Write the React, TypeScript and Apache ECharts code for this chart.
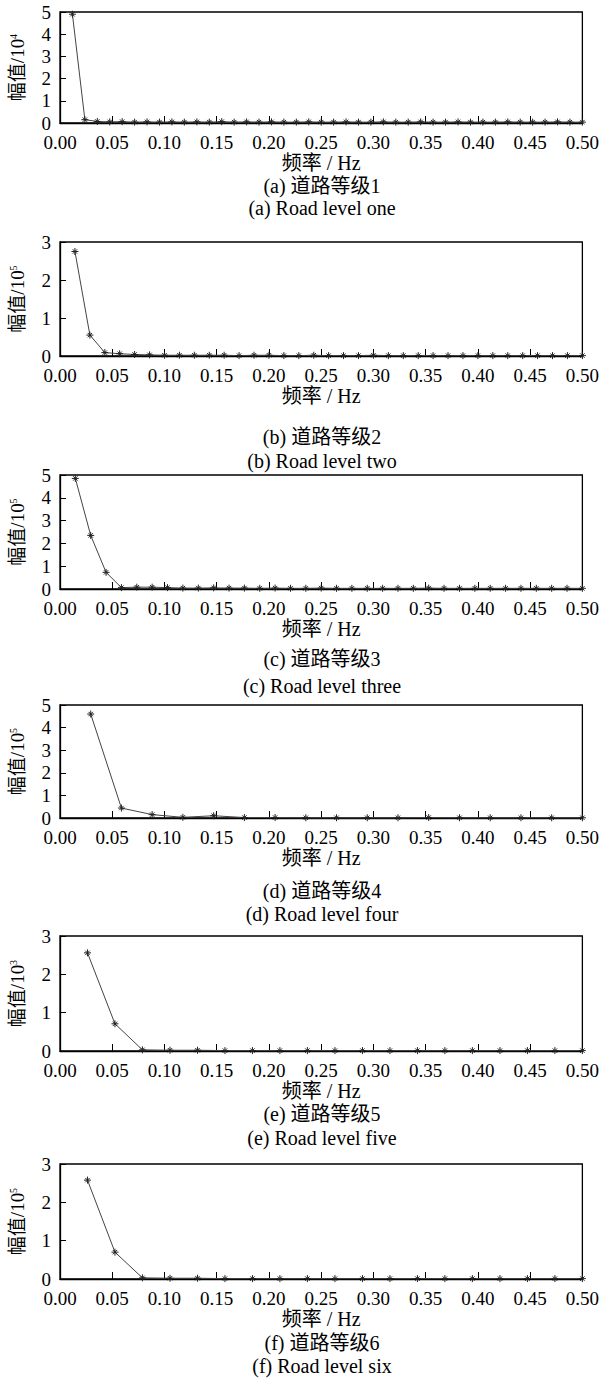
import React, { useEffect, useRef } from "react";
import * as echarts from "echarts";

// Frequencies (Hz) and amplitudes
const freqA = [0.0119, 0.0238, 0.0357, 0.0476, 0.0595, 0.0714, 0.0833, 0.0952, 0.1071, 0.1190, 0.1310, 0.1429, 0.1548, 0.1667, 0.1786, 0.1905, 0.2024, 0.2143, 0.2262, 0.2381, 0.2500, 0.2619, 0.2738, 0.2857, 0.2976, 0.3095, 0.3214, 0.3333, 0.3452, 0.3571, 0.3690, 0.3810, 0.3929, 0.4048, 0.4167, 0.4286, 0.4405, 0.4524, 0.4643, 0.4762, 0.4881, 0.5000];
const ampA = [4.9, 0.15, 0.07, 0.05, 0.06, 0.04, 0.05, 0.04, 0.05, 0.04, 0.05, 0.04, 0.06, 0.04, 0.05, 0.04, 0.05, 0.04, 0.04, 0.05, 0.04, 0.04, 0.05, 0.04, 0.04, 0.05, 0.04, 0.04, 0.05, 0.04, 0.04, 0.05, 0.04, 0.04, 0.04, 0.05, 0.04, 0.04, 0.04, 0.05, 0.04, 0.04];

const freqB = [0.0143, 0.0286, 0.0429, 0.0571, 0.0714, 0.0857, 0.1000, 0.1143, 0.1286, 0.1429, 0.1571, 0.1714, 0.1857, 0.2000, 0.2143, 0.2286, 0.2429, 0.2571, 0.2714, 0.2857, 0.3000, 0.3143, 0.3286, 0.3429, 0.3571, 0.3714, 0.3857, 0.4000, 0.4143, 0.4286, 0.4429, 0.4571, 0.4714, 0.4857, 0.5000];
const ampB = [2.75, 0.55, 0.09, 0.06, 0.04, 0.03, 0.02, 0.02, 0.02, 0.02, 0.02, 0.01, 0.02, 0.02, 0.01, 0.01, 0.02, 0.01, 0.01, 0.01, 0.02, 0.01, 0.01, 0.01, 0.01, 0.01, 0.01, 0.01, 0.01, 0.01, 0.01, 0.01, 0.01, 0.01, 0.01];

const freqC = [0.0147, 0.0294, 0.0441, 0.0588, 0.0735, 0.0882, 0.1029, 0.1176, 0.1324, 0.1471, 0.1618, 0.1765, 0.1912, 0.2059, 0.2206, 0.2353, 0.2500, 0.2647, 0.2794, 0.2941, 0.3088, 0.3235, 0.3382, 0.3529, 0.3676, 0.3824, 0.3971, 0.4118, 0.4265, 0.4412, 0.4559, 0.4706, 0.4853, 0.5000];
const ampC = [4.85, 2.35, 0.73, 0.06, 0.08, 0.08, 0.06, 0.04, 0.04, 0.05, 0.04, 0.04, 0.03, 0.04, 0.03, 0.03, 0.04, 0.03, 0.03, 0.03, 0.03, 0.03, 0.03, 0.04, 0.03, 0.03, 0.03, 0.03, 0.03, 0.03, 0.03, 0.03, 0.03, 0.03];

const freqD = [0.0294, 0.0588, 0.0882, 0.1176, 0.1471, 0.1765, 0.2059, 0.2353, 0.2647, 0.2941, 0.3235, 0.3529, 0.3824, 0.4118, 0.4412, 0.4706, 0.5000];
const ampD = [4.6, 0.44, 0.15, 0.03, 0.1, 0.02, 0.02, 0.01, 0.01, 0.01, 0.01, 0.02, 0.01, 0.01, 0.01, 0.01, 0.01];

const freqE = [0.0263, 0.0526, 0.0789, 0.1053, 0.1316, 0.1579, 0.1842, 0.2105, 0.2368, 0.2632, 0.2895, 0.3158, 0.3421, 0.3684, 0.3947, 0.4211, 0.4474, 0.4737, 0.5000];
const ampE = [2.56, 0.71, 0.03, 0.02, 0.02, 0.01, 0.01, 0.01, 0.01, 0.01, 0.01, 0.01, 0.01, 0.01, 0.01, 0.01, 0.01, 0.01, 0.01];

const freqF = [0.0263, 0.0526, 0.0789, 0.1053, 0.1316, 0.1579, 0.1842, 0.2105, 0.2368, 0.2632, 0.2895, 0.3158, 0.3421, 0.3684, 0.3947, 0.4211, 0.4474, 0.4737, 0.5000];
const ampF = [2.58, 0.70, 0.03, 0.02, 0.02, 0.01, 0.01, 0.01, 0.01, 0.01, 0.01, 0.01, 0.01, 0.01, 0.01, 0.01, 0.01, 0.01, 0.01];

const yMaxes = [5, 3, 5, 5, 3, 3];
const yExponents = ["4", "5", "5", "5", "3", "5"];
const captionsZh = ["(a) 道路等级1", "(b) 道路等级2", "(c) 道路等级3", "(d) 道路等级4", "(e) 道路等级5", "(f) 道路等级6"];
const captionsEn = ["(a) Road level one", "(b) Road level two", "(c) Road level three", "(d) Road level four", "(e) Road level five", "(f) Road level six"];
const xAxisTitle = "频率 / Hz";
const yAxisTitle = "幅值/10";

const FONT = "'Liberation Serif', 'Noto Sans CJK SC', serif";

// layout (px)
const gridTops = [12, 242, 475, 705, 936, 1164];
const gridHeights = [111, 114, 114, 113, 115, 115];
const captionY1 = [186, 437, 659, 891, 1114, 1343];
const captionY2 = [208, 461, 686, 914, 1138, 1366];

const MARKER = "path://M0,-4L0,4M-4,0L4,0M-2.5,-2.5L2.5,2.5M-2.5,2.5L2.5,-2.5";

export default function App() {
  const ref = useRef<HTMLDivElement>(null);
  useEffect(() => {
    if (!ref.current) return;
    const chart = echarts.init(ref.current, null, { renderer: "svg" });
    const freqs = [freqA, freqB, freqC, freqD, freqE, freqF];
    const amps = [ampA, ampB, ampC, ampD, ampE, ampF];

    const grids: any[] = [];
    const xAxes: any[] = [];
    const yAxes: any[] = [];
    const series: any[] = [];
    const graphics: any[] = [];

    for (let i = 0; i < 6; i++) {
      grids.push({
        left: 60,
        right: 17,
        top: gridTops[i],
        height: gridHeights[i],
        show: true,
        borderColor: "#000",
        borderWidth: 1.3,
        backgroundColor: "#fff",
      });
      xAxes.push({
        type: "value",
        gridIndex: i,
        min: 0,
        max: 0.5,
        interval: 0.05,
        name: xAxisTitle,
        nameLocation: "middle",
        nameGap: 30,
        nameTextStyle: { fontFamily: FONT, fontSize: 20, color: "#000" },
        axisLine: { show: true, lineStyle: { color: "#000", width: 1.3 } },
        axisTick: { show: true, inside: true, length: 7, lineStyle: { color: "#000" } },
        axisLabel: {
          fontFamily: FONT,
          fontSize: 19,
          lineHeight: 19,
          color: "#000",
          margin: 10,
          formatter: (v: number) => v.toFixed(2),
        },
        splitLine: { show: false },
      });
      yAxes.push({
        type: "value",
        gridIndex: i,
        min: 0,
        max: yMaxes[i],
        interval: 1,
        name: yAxisTitle + "{sup|" + yExponents[i] + "}",
        nameLocation: "middle",
        nameRotate: 90,
        nameGap: 33,
        nameTextStyle: {
          fontFamily: FONT,
          fontSize: 19,
          color: "#000",
          rich: {
            sup: { fontFamily: FONT, fontSize: 10, color: "#000", verticalAlign: "top", padding: [0, 0, 9, 0] },
          },
        },
        axisLine: { show: true, lineStyle: { color: "#000", width: 1.3 } },
        axisTick: { show: true, inside: true, length: 6, lineStyle: { color: "#000" } },
        axisLabel: { fontFamily: FONT, fontSize: 19, lineHeight: 15, color: "#000", margin: 9 },
        splitLine: { show: false },
      });
      series.push({
        type: "line",
        xAxisIndex: i,
        yAxisIndex: i,
        data: freqs[i].map((f, k) => [f, amps[i][k]]),
        symbol: MARKER,
        symbolSize: 7,
        showSymbol: true,
        lineStyle: { color: "#444", width: 1 },
        itemStyle: { color: "#222", borderColor: "#222", borderWidth: 1 },
        clip: false,
      });
      graphics.push({
        type: "text",
        x: 322,
        y: captionY1[i],
        style: {
          text: captionsZh[i],
          font: "20px " + FONT,
          fill: "#000",
          textAlign: "center",
          textVerticalAlign: "middle",
          align: "center",
          verticalAlign: "middle",
        },
      });
      graphics.push({
        type: "text",
        x: 322,
        y: captionY2[i],
        style: {
          text: captionsEn[i],
          font: "20px " + FONT,
          fill: "#000",
          textAlign: "center",
          textVerticalAlign: "middle",
          align: "center",
          verticalAlign: "middle",
        },
      });
    }

    chart.setOption({
      animation: false,
      backgroundColor: "#fff",
      grid: grids,
      xAxis: xAxes,
      yAxis: yAxes,
      series,
      graphic: graphics,
    });
    return () => chart.dispose();
  }, []);

  return (
    <div
      ref={ref}
      style={{ position: "absolute", left: 0, top: 0, width: 602, height: 1387, background: "#fff" }}
    />
  );
}
